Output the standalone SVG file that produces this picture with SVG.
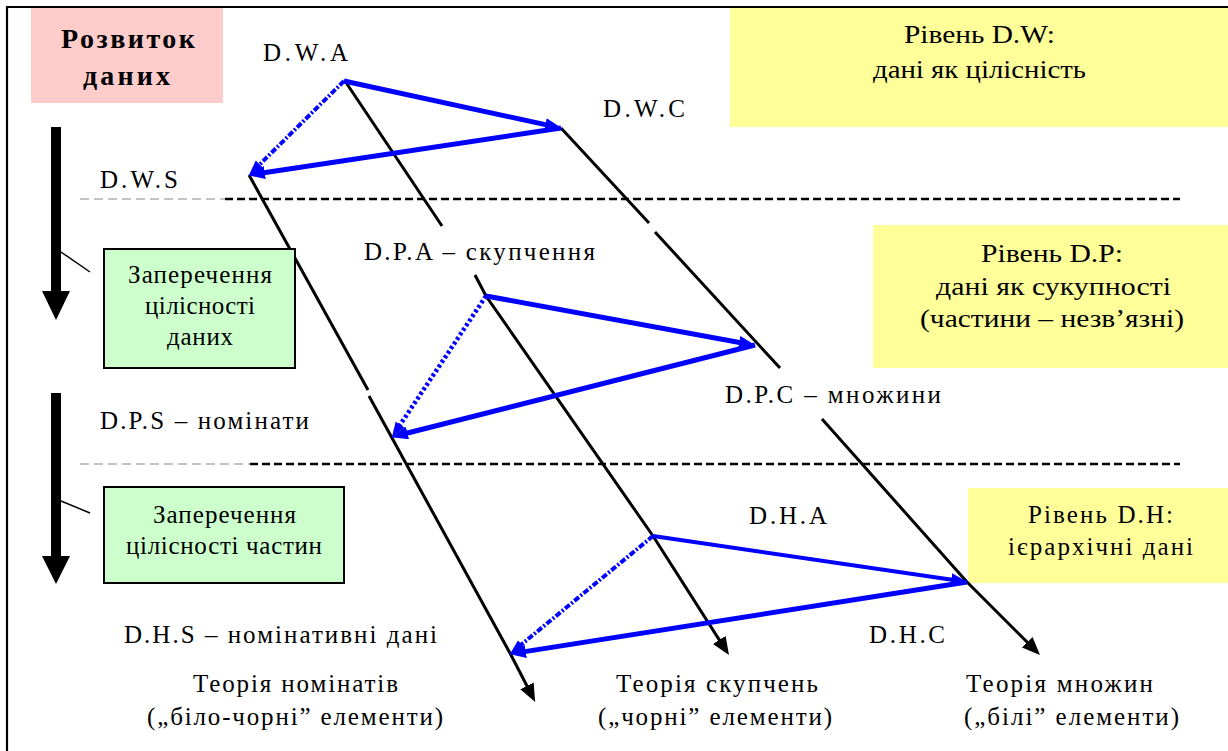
<svg xmlns="http://www.w3.org/2000/svg" width="1228" height="751" viewBox="0 0 1228 751">
<defs>
<style>
.ln{fill:none;stroke:#000;stroke-width:3}
.bl{fill:none;stroke:#0000FF;stroke-width:5}
.bh{fill:none;stroke:#0000FF;stroke-width:4}
.dw{fill:none;stroke:#0000FF;stroke-width:4;stroke-dasharray:6 2 2 2}
.dp{fill:none;stroke:#0000FF;stroke-width:4.5;stroke-dasharray:3 2.5}
.dash{fill:none;stroke:#000;stroke-width:2.5;stroke-dasharray:8 4}
.gdash{fill:none;stroke:#888;stroke-width:1.2;stroke-dasharray:9 5}
.yl{fill:#FFFF99}
.gr{fill:#CCFFCC;stroke:#000;stroke-width:2}
</style>
<marker id="ba" markerUnits="userSpaceOnUse" markerWidth="18" markerHeight="14" refX="6" refY="6.5" orient="auto">
<path d="M0,0 L17,6.5 L0,13 z" fill="#0000FF"/>
</marker>
<marker id="bs" markerUnits="userSpaceOnUse" markerWidth="16" markerHeight="12" refX="5" refY="5.5" orient="auto">
<path d="M0,0 L15,5.5 L0,11 z" fill="#0000FF"/>
</marker>
<marker id="ka" markerUnits="userSpaceOnUse" markerWidth="20" markerHeight="16" refX="8" refY="7.5" orient="auto">
<path d="M0,0 L18,7.5 L0,15 z" fill="#000"/>
</marker>
</defs>
<rect width="1228" height="751" fill="#fff"/>
<path d="M7,751 V7 H1228" fill="none" stroke="#000" stroke-width="2.2"/>

<g id="level-boxes">
<rect id="box-dw" class="yl" x="730" y="8" width="498" height="119"/>
<rect id="box-dp" class="yl" x="873" y="225" width="355" height="143"/>
<rect id="box-dh" class="yl" x="968" y="488" width="260" height="95"/>
</g>

<g id="separators">
<path class="gdash" d="M80,199 H225"/>
<path class="dash" d="M225,199 H1180"/>
<path class="gdash" d="M80,464 H250"/>
<path class="dash" d="M250,464 H1180"/>
</g>

<g id="connectors">
<path class="ln" d="M249,175 L368,390"/>
<path class="ln" d="M369,396 L511,655 L530.6,693" marker-end="url(#ka)"/>
<path class="ln" d="M345,81 L442,226"/>
<path class="ln" d="M475,275 L486,296 L653,536 L723.6,646.6" marker-end="url(#ka)"/>
<path class="ln" d="M561,128 L649,223"/>
<path class="ln" d="M655,232 L780,368"/>
<path class="ln" d="M822,419 L967,582 L1032.9,647.9" marker-end="url(#ka)"/>
<path class="bl" d="M344,81 L551.2,125.9" marker-end="url(#ba)"/>
<path class="bl" d="M561,128 L258.9,173.5" marker-end="url(#ba)"/>
<path class="dw" d="M344,81 L256.1,168" marker-end="url(#bs)"/>
<path class="bl" d="M486,296 L745,343.5" marker-end="url(#ba)"/>
<path class="bl" d="M755,345 L401.7,434.5" marker-end="url(#ba)"/>
<path class="dp" d="M486,296 L397.5,428.7" marker-end="url(#bs)"/>
<path class="bh" d="M653,536 L957.1,580.6" marker-end="url(#ba)"/>
<path class="bl" d="M967,582 L519.9,652.4" marker-end="url(#ba)"/>
<path class="dw" d="M653,536 L517.7,647.6" marker-end="url(#bs)"/>
<rect x="51" y="127" width="10" height="165" fill="#000"/>
<path d="M42,291 L70,291 L56,320 z" fill="#000"/>
<rect x="51" y="393" width="10" height="164" fill="#000"/>
<path d="M42,556 L70,556 L56,584 z" fill="#000"/>
<path d="M61,252 L90,272" stroke="#000" stroke-width="1.5"/>
<path d="M61,501 L90,513" stroke="#000" stroke-width="1.5"/>
</g>

<g font-family="Liberation Serif" font-size="25" fill="#000">
<g id="title">
<rect x="31" y="8" width="192" height="95" fill="#FFCCCC"/>
<text font-weight="bold" font-size="28" x="61" y="48" textLength="134" lengthAdjust="spacing">Розвиток</text>
<text font-weight="bold" font-size="28" x="83" y="85" textLength="87" lengthAdjust="spacing">даних</text>
</g>

<g id="level-dw-text">
<text x="904" y="43" textLength="151" lengthAdjust="spacingAndGlyphs">Рівень D.W:</text>
<text x="873" y="78" textLength="213" lengthAdjust="spacingAndGlyphs">дані як цілісність</text>
</g>
<g id="level-dp-text">
<text x="981" y="262" textLength="142" lengthAdjust="spacingAndGlyphs">Рівень D.P:</text>
<text x="936" y="295" textLength="235" lengthAdjust="spacingAndGlyphs">дані як сукупності</text>
<text x="920" y="327" textLength="264" lengthAdjust="spacingAndGlyphs">(частини – незв’язні)</text>
</g>
<g id="level-dh-text">
<text x="1028" y="523" textLength="145" lengthAdjust="spacing">Рівень D.H:</text>
<text x="1008" y="555" textLength="185" lengthAdjust="spacing">ієрархічні дані</text>
</g>

<g id="negation-1">
<rect class="gr" x="104" y="249" width="191" height="119"/>
<text x="128" y="283" textLength="144" lengthAdjust="spacing">Заперечення</text>
<text x="145" y="314" textLength="110" lengthAdjust="spacing">цілісності</text>
<text x="167" y="345" textLength="66" lengthAdjust="spacing">даних</text>
</g>
<g id="negation-2">
<rect class="gr" x="104" y="487" width="240" height="96"/>
<text x="153" y="523" textLength="143" lengthAdjust="spacing">Заперечення</text>
<text x="126" y="554" textLength="196" lengthAdjust="spacing">цілісності частин</text>
</g>

<g id="node-dwa"><text x="263" y="61" textLength="85" lengthAdjust="spacing">D.W.A</text></g>
<g id="node-dwc"><text x="603" y="117" textLength="82" lengthAdjust="spacing">D.W.C</text></g>
<g id="node-dws"><text x="100" y="188" textLength="78" lengthAdjust="spacing">D.W.S</text></g>
<g id="node-dpa"><text x="364" y="260" textLength="231" lengthAdjust="spacing">D.P.A – скупчення</text></g>
<g id="node-dpc"><text x="725" y="403" textLength="216" lengthAdjust="spacing">D.P.C – множини</text></g>
<g id="node-dps"><text x="100" y="429" textLength="209" lengthAdjust="spacing">D.P.S – номінати</text></g>
<g id="node-dha"><text x="749" y="524" textLength="78" lengthAdjust="spacing">D.H.A</text></g>
<g id="node-dhc"><text x="869" y="643" textLength="76" lengthAdjust="spacing">D.H.C</text></g>
<g id="node-dhs"><text x="124" y="643" textLength="313" lengthAdjust="spacing">D.H.S – номінативні дані</text></g>

<g id="theory-nominates">
<text x="193" y="692" textLength="205" lengthAdjust="spacing">Теорія номінатів</text>
<text x="147" y="725" textLength="296" lengthAdjust="spacing">(„біло-чорні” елементи)</text>
</g>
<g id="theory-clusters">
<text x="616" y="692" textLength="202" lengthAdjust="spacing">Теорія скупчень</text>
<text x="598" y="725" textLength="234" lengthAdjust="spacing">(„чорні” елементи)</text>
</g>
<g id="theory-sets">
<text x="966" y="692" textLength="187" lengthAdjust="spacing">Теорія множин</text>
<text x="964" y="725" textLength="215" lengthAdjust="spacing">(„білі” елементи)</text>
</g>
</g>
</svg>
